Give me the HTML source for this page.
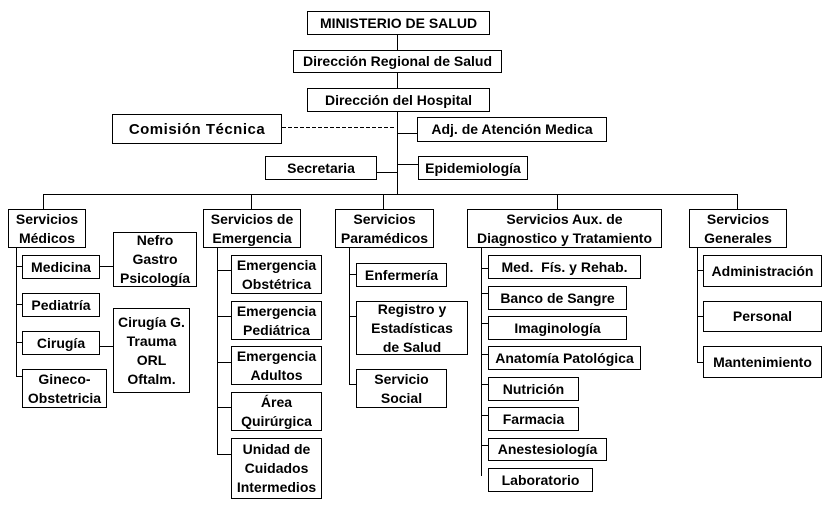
<!DOCTYPE html><html><head><meta charset="utf-8"><style>
body{margin:0;width:831px;height:508px;background:#fff;position:relative;overflow:hidden;font-family:"Liberation Sans",Arial,sans-serif;font-weight:bold;font-size:14px;color:#000}
.b{position:absolute;box-sizing:border-box;border:1px solid #000;display:flex;align-items:center;justify-content:center;text-align:center;line-height:19px;background:#fff}
.h{position:absolute;height:1px;background:#000}
.v{position:absolute;width:1px;background:#000}
</style></head><body>
<div class="v" style="left:397px;top:34px;height:160px"></div>
<div style="position:absolute;left:282px;top:127px;width:113px;height:1px;background:repeating-linear-gradient(90deg,#000 0 4px,transparent 4px 6px)"></div>
<div class="h" style="left:397px;top:133px;width:20px"></div>
<div class="h" style="left:376px;top:172px;width:21px"></div>
<div class="h" style="left:397px;top:164px;width:21px"></div>
<div class="h" style="left:43px;top:194px;width:695px"></div>
<div class="v" style="left:43px;top:194px;height:15px"></div>
<div class="v" style="left:251px;top:194px;height:15px"></div>
<div class="v" style="left:383px;top:194px;height:15px"></div>
<div class="v" style="left:557px;top:194px;height:15px"></div>
<div class="v" style="left:737px;top:194px;height:15px"></div>
<div class="v" style="left:16px;top:247px;height:130px"></div>
<div class="h" style="left:16px;top:266px;width:6px"></div>
<div class="h" style="left:16px;top:304px;width:6px"></div>
<div class="h" style="left:16px;top:342px;width:6px"></div>
<div class="h" style="left:16px;top:376px;width:6px"></div>
<div class="h" style="left:99px;top:266px;width:14px"></div>
<div class="h" style="left:99px;top:346px;width:14px"></div>
<div class="v" style="left:217px;top:247px;height:208px"></div>
<div class="h" style="left:217px;top:270px;width:14px"></div>
<div class="h" style="left:217px;top:316px;width:14px"></div>
<div class="h" style="left:217px;top:362px;width:14px"></div>
<div class="h" style="left:217px;top:407px;width:14px"></div>
<div class="h" style="left:217px;top:454px;width:14px"></div>
<div class="v" style="left:349px;top:247px;height:138px"></div>
<div class="h" style="left:349px;top:274px;width:7px"></div>
<div class="h" style="left:349px;top:316px;width:7px"></div>
<div class="h" style="left:349px;top:384px;width:7px"></div>
<div class="v" style="left:481px;top:247px;height:229px"></div>
<div class="h" style="left:481px;top:268px;width:7px"></div>
<div class="h" style="left:481px;top:293px;width:7px"></div>
<div class="h" style="left:481px;top:323px;width:7px"></div>
<div class="h" style="left:481px;top:354px;width:7px"></div>
<div class="h" style="left:481px;top:384px;width:7px"></div>
<div class="h" style="left:481px;top:415px;width:7px"></div>
<div class="h" style="left:481px;top:445px;width:7px"></div>
<div class="v" style="left:697px;top:247px;height:116px"></div>
<div class="h" style="left:697px;top:270px;width:6px"></div>
<div class="h" style="left:697px;top:316px;width:6px"></div>
<div class="h" style="left:697px;top:362px;width:6px"></div>

<div class="b" style="left:307px;top:11px;width:183px;height:24px">MINISTERIO DE SALUD</div>
<div class="b" style="left:293px;top:50px;width:209px;height:23px">Dirección Regional de Salud</div>
<div class="b" style="left:307px;top:88px;width:183px;height:24px">Dirección del Hospital</div>
<div class="b" style="left:112px;top:114px;width:170px;height:30px;font-size:15px;letter-spacing:0.5px">Comisión Técnica</div>
<div class="b" style="left:417px;top:117px;width:190px;height:25px">Adj. de Atención Medica</div>
<div class="b" style="left:265px;top:156px;width:112px;height:24px">Secretaria</div>
<div class="b" style="left:418px;top:156px;width:110px;height:24px">Epidemiología</div>

<div class="b" style="left:8px;top:209px;width:78px;height:39px">Servicios<br>Médicos</div>
<div class="b" style="left:22px;top:255px;width:78px;height:24px">Medicina</div>
<div class="b" style="left:22px;top:293px;width:78px;height:24px">Pediatría</div>
<div class="b" style="left:22px;top:331px;width:78px;height:24px">Cirugía</div>
<div class="b" style="left:22px;top:369px;width:85px;height:39px">Gineco-<br>Obstetricia</div>
<div class="b" style="left:113px;top:232px;width:84px;height:55px">Nefro<br>Gastro<br>Psicología</div>
<div class="b" style="left:113px;top:308px;width:77px;height:85px">Cirugía G.<br>Trauma<br>ORL<br>Oftalm.</div>

<div class="b" style="left:203px;top:209px;width:98px;height:39px">Servicios de<br>Emergencia</div>
<div class="b" style="left:231px;top:255px;width:91px;height:39px">Emergencia<br>Obstétrica</div>
<div class="b" style="left:231px;top:301px;width:91px;height:39px">Emergencia<br>Pediátrica</div>
<div class="b" style="left:231px;top:346px;width:91px;height:39px">Emergencia<br>Adultos</div>
<div class="b" style="left:231px;top:392px;width:91px;height:39px">Área<br>Quirúrgica</div>
<div class="b" style="left:231px;top:438px;width:91px;height:61px">Unidad de<br>Cuidados<br>Intermedios</div>

<div class="b" style="left:335px;top:209px;width:99px;height:39px">Servicios<br>Paramédicos</div>
<div class="b" style="left:356px;top:263px;width:91px;height:24px">Enfermería</div>
<div class="b" style="left:356px;top:301px;width:112px;height:54px">Registro y<br>Estadísticas<br>de Salud</div>
<div class="b" style="left:356px;top:369px;width:91px;height:39px">Servicio<br>Social</div>

<div class="b" style="left:467px;top:209px;width:195px;height:39px">Servicios Aux. de<br>Diagnostico y Tratamiento</div>
<div class="b" style="left:488px;top:255px;width:153px;height:24px">Med.&nbsp; Fís. y Rehab.</div>
<div class="b" style="left:488px;top:286px;width:139px;height:24px">Banco de Sangre</div>
<div class="b" style="left:488px;top:316px;width:139px;height:24px">Imaginología</div>
<div class="b" style="left:488px;top:346px;width:153px;height:24px">Anatomía Patológica</div>
<div class="b" style="left:488px;top:377px;width:91px;height:24px">Nutrición</div>
<div class="b" style="left:488px;top:407px;width:91px;height:24px">Farmacia</div>
<div class="b" style="left:488px;top:438px;width:119px;height:23px">Anestesiología</div>
<div class="b" style="left:488px;top:468px;width:105px;height:24px">Laboratorio</div>

<div class="b" style="left:689px;top:209px;width:98px;height:39px">Servicios<br>Generales</div>
<div class="b" style="left:703px;top:255px;width:119px;height:32px">Administración</div>
<div class="b" style="left:703px;top:301px;width:119px;height:31px">Personal</div>
<div class="b" style="left:703px;top:346px;width:119px;height:32px">Mantenimiento</div>
</body></html>
